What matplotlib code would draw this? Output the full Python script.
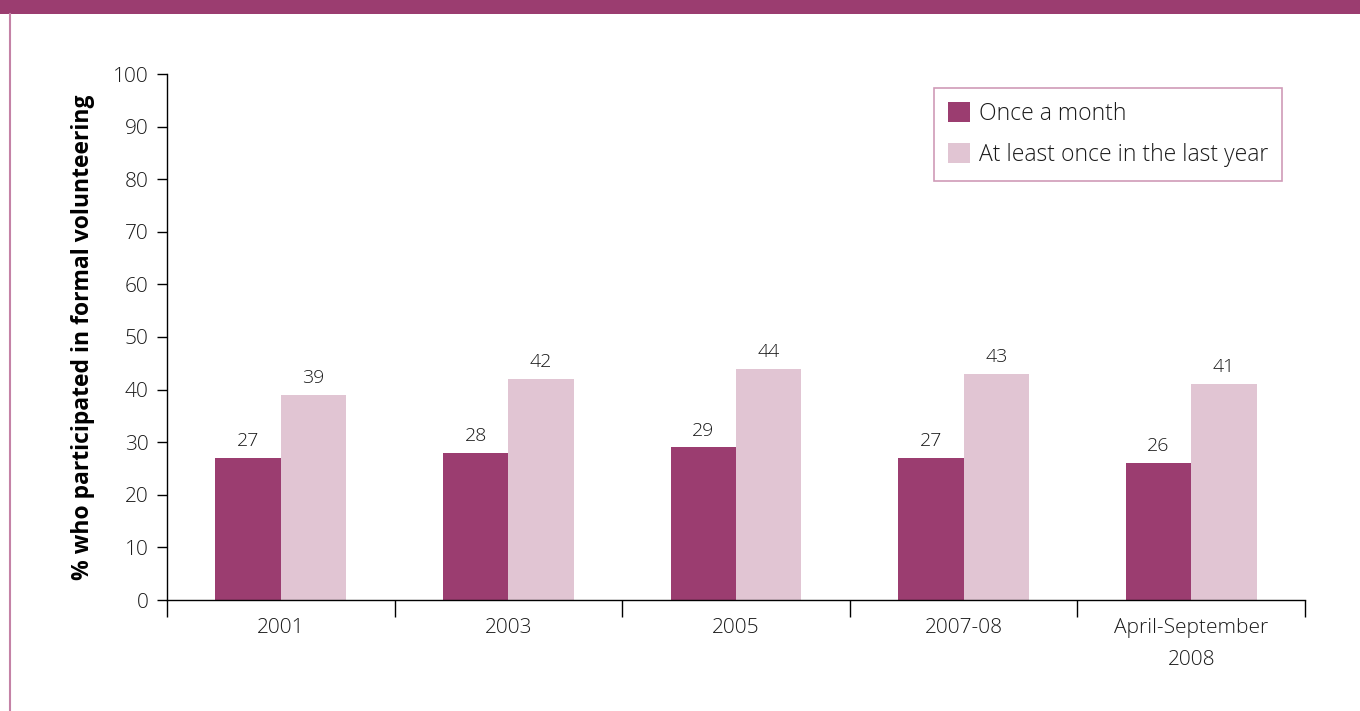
import matplotlib
matplotlib.use("Agg")
import matplotlib.pyplot as plt
from matplotlib.lines import Line2D
from matplotlib.patches import Rectangle
import numpy as np

plt.rcParams['font.family'] = ['Open Sans', 'DejaVu Sans']
plt.rcParams['font.weight'] = 'light'

categories = ["2001", "2003", "2005", "2007-08", "April-September\n2008"]
once_a_month = [27, 28, 29, 27, 26]
last_year = [39, 42, 44, 43, 41]
series_names = ["Once a month", "At least once in the last year"]
yticks = list(range(0, 101, 10))

dark = "#9b3d70"
light = "#e1c5d3"
frame = "#c482a6"
ink = "#1a1a1a"

fig = plt.figure(figsize=(13.6, 7.11), dpi=100)

# header band and left rule
fig.patches.append(Rectangle((0, 1 - 14 / 711), 1, 14 / 711, transform=fig.transFigure,
                             facecolor=dark, edgecolor="none", zorder=0))
fig.lines.append(Line2D([9.5 / 1360, 9.5 / 1360], [0, 1 - 14 / 711], transform=fig.transFigure,
                        color=frame, lw=1.5))

ax = fig.add_axes([167 / 1360, 1 - 600 / 711, (1305 - 167) / 1360, (600 - 74) / 711])

x = np.arange(len(categories))
w = 0.287
b1 = ax.bar(x - w / 2, once_a_month, w, color=dark, label=series_names[0])
b2 = ax.bar(x + w / 2, last_year, w, color=light, label=series_names[1])

for bars, vals in ((b1, once_a_month), (b2, last_year)):
    for r, v in zip(bars, vals):
        ax.text(r.get_x() + r.get_width() / 2, v + 1.5, f"{v}", ha="center", va="bottom",
                fontsize=14, color=ink)

ax.set_xlim(-0.5, len(categories) - 0.5)
ax.set_ylim(0, 100)
ax.set_yticks(yticks)
ax.tick_params(axis="y", direction="out", length=7.2, width=1, labelsize=15, pad=6,
               labelcolor=ink)
ax.set_xticks(np.arange(-0.5, len(categories), 1.0))
ax.set_xticklabels([])
ax.set_xticks(x, minor=True)
ax.set_xticklabels(categories, minor=True, fontsize=15, color=ink, linespacing=1.8)
ax.tick_params(axis="x", which="major", direction="out", length=12.2, width=1)
ax.tick_params(axis="x", which="minor", length=0, pad=13)

for s in ("top", "right"):
    ax.spines[s].set_visible(False)
ax.spines["left"].set_linewidth(1)
ax.spines["bottom"].set_linewidth(1)

ax.set_ylabel("% who participated in formal volunteering", fontsize=16.5, fontweight="bold",
              labelpad=13, color="black")

leg = ax.legend(loc="upper right", bbox_to_anchor=(1282 / 1360, 1 - 88 / 711),
                bbox_transform=fig.transFigure, frameon=True, fancybox=False,
                fontsize=16.5, handlelength=0.95, handleheight=0.95, handletextpad=0.4,
                borderpad=0.6, labelspacing=0.75, borderaxespad=0)
leg.get_frame().set_edgecolor(frame)
leg.get_frame().set_linewidth(1.2)
for t in leg.get_texts():
    t.set_color(ink)

fig.savefig("out.png", dpi=100)
